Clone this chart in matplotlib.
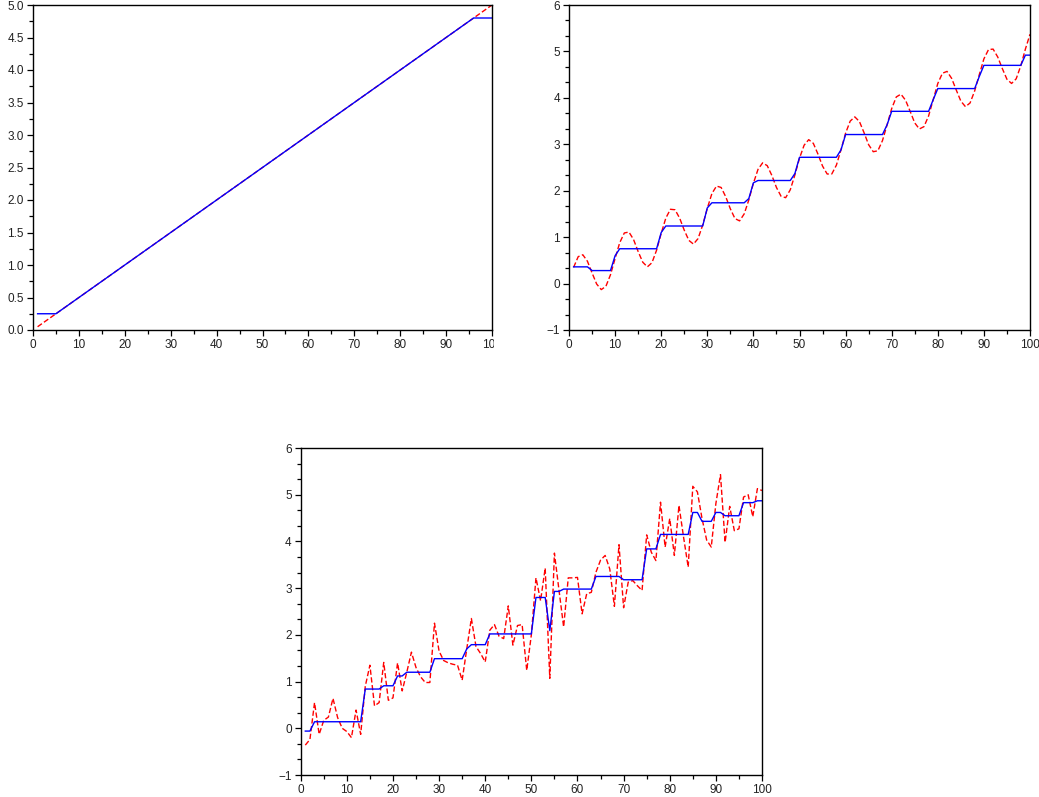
import matplotlib
matplotlib.use("Agg")
import matplotlib.pyplot as plt
from matplotlib.ticker import MultipleLocator
from matplotlib.transforms import Bbox, TransformedBbox

# top left: straight ramp and its filtered version (polyline vertices)
ramp_x = [1, 100]
ramp_y = [0.05, 5.0]
ramp_filt_x = [1, 5, 96, 100]
ramp_filt_y = [0.25, 0.25, 4.8, 4.8]

# top right: ramp + sine, and the filtered staircase
sine_x = list(range(1, 101))
sine_y = [0.35, 0.58, 0.62, 0.48, 0.23, -0.01, -0.13, -0.06, 0.19, 0.54,
          0.88, 1.09, 1.11, 0.95, 0.69, 0.46, 0.36, 0.45, 0.72, 1.08,
          1.41, 1.60, 1.59, 1.41, 1.15, 0.93, 0.85, 0.97, 1.26, 1.62,
          1.94, 2.10, 2.07, 1.87, 1.61, 1.40, 1.35, 1.50, 1.80, 2.16,
          2.46, 2.60, 2.54, 2.33, 2.07, 1.88, 1.85, 2.02, 2.34, 2.70,
          2.98, 3.10, 3.02, 2.79, 2.53, 2.36, 2.36, 2.55, 2.88, 3.24,
          3.50, 3.59, 3.49, 3.25, 2.99, 2.84, 2.86, 3.08, 3.42, 3.77,
          4.02, 4.08, 3.95, 3.71, 3.46, 3.33, 3.38, 3.61, 3.96, 4.31,
          4.53, 4.57, 4.42, 4.17, 3.93, 3.81, 3.89, 4.15, 4.50, 4.84,
          5.04, 5.05, 4.88, 4.63, 4.40, 4.31, 4.41, 4.69, 5.05, 5.37]
sine_filt_x = [1, 4, 5, 9, 10, 11, 19, 20, 21, 29, 30, 31, 38, 39, 40, 41,
               48, 49, 50, 58, 59, 60, 68, 69, 70, 78, 79, 80, 88, 89, 90,
               98, 99, 100]
sine_filt_y = [0.36, 0.36, 0.28, 0.28, 0.60, 0.75, 0.75, 1.10, 1.24, 1.24,
               1.63, 1.74, 1.74, 1.83, 2.17, 2.22, 2.22, 2.37, 2.72, 2.72,
               2.88, 3.21, 3.21, 3.42, 3.71, 3.71, 3.96, 4.20, 4.20, 4.46,
               4.70, 4.70, 4.92, 4.92]

# bottom: noisy ramp and its filtered version
noisy_x = list(range(1, 101))
noisy_y = [-0.36, -0.24, 0.55, -0.13, 0.17, 0.24, 0.64, 0.23, 0.00, -0.07,
           -0.20, 0.39, -0.13, 0.90, 1.35, 0.48, 0.55, 1.41, 0.60, 0.65,
           1.40, 0.80, 1.20, 1.63, 1.30, 1.10, 0.98, 0.98, 2.25, 1.65,
           1.45, 1.40, 1.37, 1.35, 1.03, 1.70, 2.35, 1.75, 1.60, 1.42,
           2.10, 2.22, 1.97, 1.92, 2.62, 1.78, 2.20, 2.22, 1.24, 2.00,
           3.22, 2.73, 3.43, 1.07, 3.75, 2.95, 2.17, 3.22, 3.22, 3.23,
           2.45, 2.88, 2.91, 3.34, 3.60, 3.70, 3.41, 2.61, 3.93, 2.58,
           3.13, 3.16, 3.05, 2.95, 4.14, 3.77, 3.59, 4.84, 3.88, 4.49,
           3.70, 4.77, 4.09, 3.45, 5.18, 5.06, 4.49, 4.03, 3.88, 4.81,
           5.43, 3.98, 4.75, 4.23, 4.27, 4.95, 5.00, 4.53, 5.13, 5.09]
noisy_filt_x = [1, 2, 3, 13, 14, 17, 18, 20, 21, 22, 23, 28, 29, 35, 36, 37,
                40, 41, 50, 51, 53, 54, 55, 56, 57, 63, 64, 69, 70, 74, 75,
                77, 78, 84, 85, 86, 87, 89, 90, 91, 92, 95, 96, 98, 99, 100]
noisy_filt_y = [-0.06, -0.06, 0.14, 0.14, 0.84, 0.84, 0.91, 0.91, 1.12, 1.12,
                1.20, 1.20, 1.49, 1.49, 1.70, 1.79, 1.79, 2.02, 2.02, 2.80,
                2.80, 2.09, 2.93, 2.93, 2.98, 2.98, 3.25, 3.25, 3.18, 3.18,
                3.84, 3.84, 4.15, 4.15, 4.62, 4.62, 4.43, 4.43, 4.62, 4.62,
                4.55, 4.55, 4.83, 4.83, 4.87, 4.87]

W, H = 1039, 797
fig = plt.figure(figsize=(W / 100, H / 100), dpi=100)
plt.rcParams["font.family"] = ["Liberation Sans", "DejaVu Sans"]


def px_axes(left, top, right, bottom):
    return fig.add_axes([left / W, 1 - bottom / H,
                         (right - left) / W, (bottom - top) / H])


def style(ax, ylim, ymajor, yminor):
    ax.set_xlim(0, 100)
    ax.set_ylim(*ylim)
    ax.xaxis.set_major_locator(MultipleLocator(10))
    ax.xaxis.set_minor_locator(MultipleLocator(5))
    ax.yaxis.set_major_locator(MultipleLocator(ymajor))
    ax.yaxis.set_minor_locator(MultipleLocator(yminor))
    ax.tick_params(which="both", direction="out", top=False, right=False,
                   labelsize=8.5, labelcolor="#222222", pad=2.5)
    ax.tick_params(which="major", length=4, width=0.9)
    ax.tick_params(which="minor", length=3, width=0.9)
    for s in ax.spines.values():
        s.set_linewidth(1.0)


def draw(ax, x, y, fx, fy):
    ax.plot(x, y, color="#ff0000", lw=1.0, ls=(0, (3.8, 1.8)))
    ax.plot(fx, fy, color="#0000ff", lw=1.0)


ax1 = px_axes(33, 5, 492, 330)
draw(ax1, ramp_x, ramp_y, ramp_filt_x, ramp_filt_y)
style(ax1, (0, 5), 0.5, 0.25)
ax1.yaxis.set_major_formatter(lambda v, p: "%.1f" % v)

ax2 = px_axes(569, 5, 1030, 330)
draw(ax2, sine_x, sine_y, sine_filt_x, sine_filt_y)
style(ax2, (-1, 6), 1, 1 / 3)

ax3 = px_axes(300.7, 448, 762, 775)
draw(ax3, noisy_x, noisy_y, noisy_filt_x, noisy_filt_y)
style(ax3, (-1, 6), 1, 1 / 3)

for ax in (ax2, ax3):
    ax.yaxis.set_major_formatter(
        lambda v, p: ("\u2212%d" % -v) if v < 0 else "%d" % v)

# the last x label of the first plot is cut at the plot edge
fig.canvas.draw()
clip = TransformedBbox(Bbox([[0, 0], [493.5 / W, 1]]), fig.transFigure)
for lab in ax1.get_xticklabels():
    lab.set_clip_box(clip)
    lab.set_clip_on(True)

fig.savefig("out.png", dpi=100)
